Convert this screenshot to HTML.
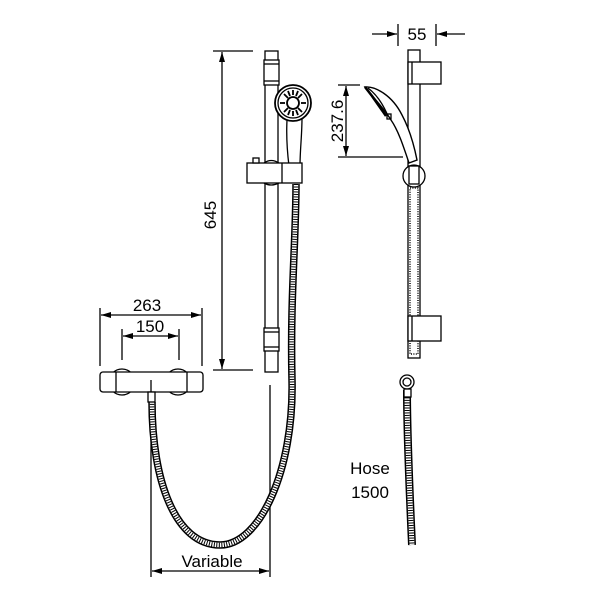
<!DOCTYPE html>
<html><head><style>html,body{margin:0;padding:0;background:#fff}svg{display:block}</style></head>
<body>
<svg width="600" height="600" viewBox="0 0 600 600" xmlns="http://www.w3.org/2000/svg" font-family="Liberation Sans, sans-serif">
<defs>
<marker id="a" viewBox="0 0 10 6" refX="10" refY="3" markerWidth="11" markerHeight="6" orient="auto-start-reverse" markerUnits="userSpaceOnUse"><path d="M0,0 L10,3 L0,6z" fill="#000"/></marker>
</defs>
<g stroke="#000" fill="none" stroke-width="1.3">
<!-- 645 dim -->
<line x1="213" y1="51" x2="253" y2="51"/><line x1="213" y1="370" x2="253" y2="370"/>
<line x1="222" y1="52" x2="222" y2="369" marker-start="url(#a)" marker-end="url(#a)"/>
<!-- 263 -->
<line x1="100" y1="308" x2="100" y2="366"/><line x1="202" y1="308" x2="202" y2="366"/>
<line x1="101" y1="315" x2="201" y2="315" marker-start="url(#a)" marker-end="url(#a)"/>
<!-- 150 -->
<line x1="122" y1="329" x2="122" y2="360"/><line x1="179" y1="329" x2="179" y2="360"/>
<line x1="123" y1="336" x2="178" y2="336" marker-start="url(#a)" marker-end="url(#a)"/>
<!-- Variable -->
<line x1="151" y1="402" x2="151" y2="577"/><line x1="270" y1="385" x2="270" y2="577"/>
<line x1="152" y1="571" x2="269" y2="571" marker-start="url(#a)" marker-end="url(#a)"/>

<!-- left hose -->
<path d="M296,184 C296,240 290,300 292,380 C294,470 260,545 220,545 C175,545 152,480 152,402" stroke-width="7.5"/>
<path d="M296,184 C296,240 290,300 292,380 C294,470 260,545 220,545 C175,545 152,480 152,402" stroke="#fff" stroke-width="4.5"/>
<path d="M296,184 C296,240 290,300 292,380 C294,470 260,545 220,545 C175,545 152,480 152,402" stroke-width="4.5" stroke-dasharray="1 1.5"/>

<!-- left rail -->
<rect x="265" y="51" width="13" height="321" fill="#fff"/>
<rect x="264" y="60" width="15" height="25" fill="#fff"/>
<line x1="264" y1="64" x2="279" y2="64"/><line x1="264" y1="81" x2="279" y2="81"/>
<rect x="264" y="328" width="15" height="23" fill="#fff"/>
<line x1="264" y1="332" x2="279" y2="332"/><line x1="264" y1="347" x2="279" y2="347"/>
<!-- handset -->
<path d="M287,120 C286,140 288,158 289,166 L300,166 C300,150 302,135 302,118" fill="#fff"/>
<circle cx="293" cy="103" r="18" fill="#fff" stroke-width="1.8"/>
<circle cx="293" cy="103" r="15"/>
<circle cx="293" cy="103" r="6" stroke-width="1.8"/>
<g stroke-width="1.8">
<line x1="293" y1="90" x2="293" y2="95"/><line x1="293" y1="111" x2="293" y2="116"/>
<line x1="280" y1="103" x2="285" y2="103"/><line x1="301" y1="103" x2="306" y2="103"/>
<line x1="284" y1="94" x2="288" y2="98"/><line x1="298" y1="108" x2="302" y2="112"/>
<line x1="302" y1="94" x2="298" y2="98"/><line x1="288" y1="108" x2="284" y2="112"/>
<line x1="288" y1="91" x2="290" y2="96"/><line x1="296" y1="110" x2="298" y2="115"/>
<line x1="298" y1="91" x2="296" y2="96"/><line x1="290" y1="110" x2="288" y2="115"/>
</g>
<!-- slider -->
<rect x="247" y="163" width="55" height="20" fill="#fff"/>
<line x1="282" y1="163" x2="282" y2="183"/>
<path d="M264,163 Q271,158 279,163 M264,183 Q271,187 279,183"/>
<rect x="253" y="158" width="6" height="5" fill="#fff"/>

<!-- valve -->
<circle cx="122" cy="382" r="13" fill="#fff"/><circle cx="178" cy="382" r="13" fill="#fff"/>
<rect x="100" y="372" width="103" height="20" rx="3" fill="#fff"/>
<line x1="116" y1="372" x2="116" y2="392"/><line x1="187" y1="372" x2="187" y2="392"/>
<line x1="151" y1="380" x2="151" y2="392"/>
<rect x="148" y="392" width="7" height="10" fill="#fff"/>

<!-- right view -->
<line x1="398" y1="24" x2="398" y2="46"/><line x1="436" y1="24" x2="436" y2="46"/>
<line x1="372" y1="34" x2="397" y2="34" marker-end="url(#a)"/>
<line x1="465" y1="34" x2="437" y2="34" marker-end="url(#a)"/>
<line x1="338" y1="85" x2="360" y2="85"/><line x1="338" y1="157" x2="403" y2="157"/>
<line x1="346" y1="86" x2="346" y2="156" marker-start="url(#a)" marker-end="url(#a)"/>

<!-- right hose lower -->
<path d="M407,390 C407,440 410,500 412,545" stroke-width="8"/>
<path d="M407,390 C407,440 410,500 412,545" stroke="#fff" stroke-width="5"/>
<path d="M407,390 C407,440 410,500 412,545" stroke-width="5" stroke-dasharray="1 1.5"/>
<!-- rail -->
<rect x="408" y="50" width="12" height="308" fill="#fff"/>
<rect x="410" y="188" width="8" height="166" stroke-dasharray="1 1.4" stroke-width="1.5"/>
<rect x="408" y="62" width="33" height="22" fill="#fff"/><line x1="412" y1="62" x2="412" y2="84"/>
<rect x="408" y="316" width="33" height="25" fill="#fff"/><line x1="412" y1="316" x2="412" y2="341"/>
<!-- handset side -->
<path d="M365,87 C375,86 392,95 402,115 C410,130 414,145 417,160 L409,163 C403,145 398,130 391,120 C385,110 374,98 365,87z" fill="#fff" stroke-width="1.4"/>
<path d="M368,88 C376,94 383,104 388,116" />
<path d="M365,87 L372,96 L386,116" stroke-width="2.5"/>
<rect x="387" y="114" width="4" height="5"/>
<circle cx="414" cy="176" r="11" fill="#fff"/>
<rect x="409" y="166" width="10" height="18"/>
<circle cx="407" cy="382" r="7" fill="#fff"/><circle cx="407" cy="382" r="4"/>
<rect x="404" y="389" width="7" height="8" fill="#fff"/>
</g>
<g font-size="17" fill="#000">
<text x="147" y="311" text-anchor="middle">263</text>
<text x="150" y="332" text-anchor="middle">150</text>
<text x="212" y="567" text-anchor="middle">Variable</text>
<text x="417" y="40" text-anchor="middle">55</text>
<text x="370" y="474" text-anchor="middle">Hose</text>
<text x="370" y="498" text-anchor="middle">1500</text>
<text transform="translate(216,215) rotate(-90)" text-anchor="middle">645</text>
<text transform="translate(343,121) rotate(-90)" text-anchor="middle">237.6</text>
</g>
</svg>
</body></html>
